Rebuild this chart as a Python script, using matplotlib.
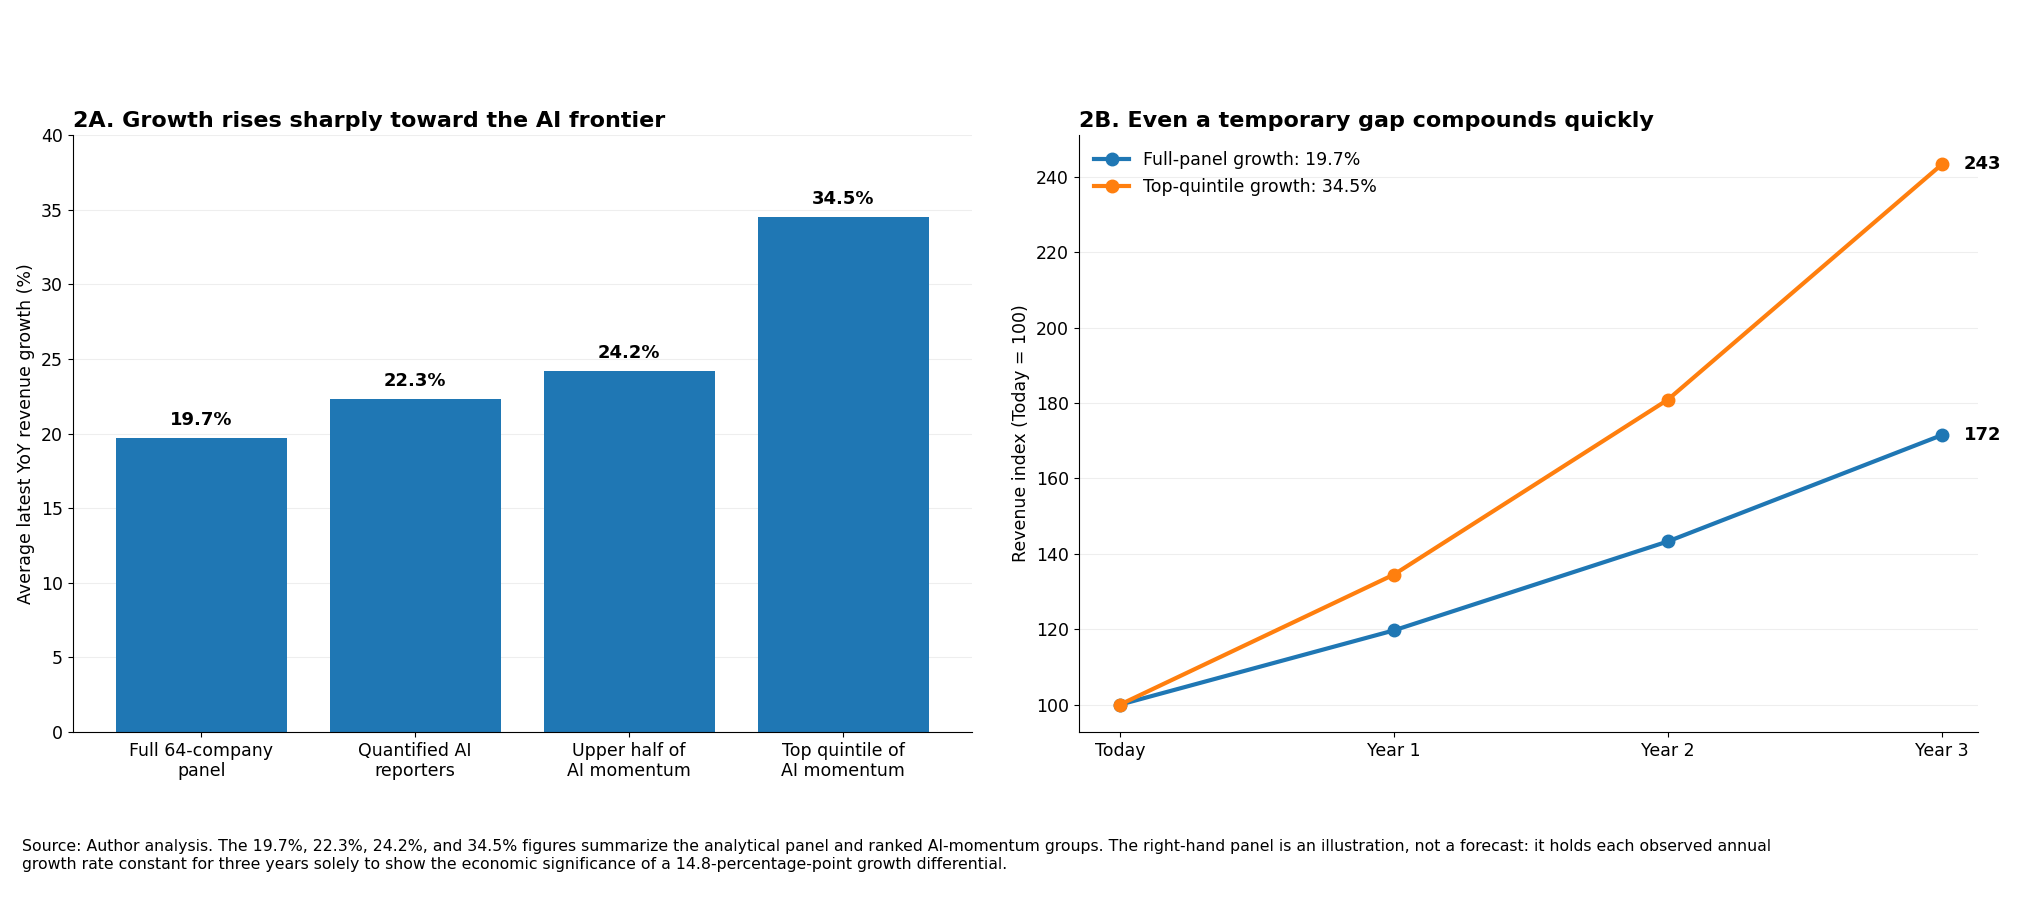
import matplotlib.pyplot as plt

# panel A data
groups = ["Full 64-company\npanel", "Quantified AI\nreporters", "Upper half of\nAI momentum", "Top quintile of\nAI momentum"]
growth = [19.7, 22.3, 24.2, 34.5]

# panel B data
years = ["Today", "Year 1", "Year 2", "Year 3"]
full_panel = [100, 119.7, 143.3, 171.5]
top_quintile = [100, 134.5, 180.9, 243.3]

blue = "#1f77b4"
orange = "#ff7f0e"

fig = plt.figure(figsize=(20.2, 9.08), dpi=100)
ax1 = fig.add_axes([0.036, 0.194, 0.445, 0.657])
ax2 = fig.add_axes([0.534, 0.194, 0.445, 0.657])

ax1.bar(range(len(groups)), growth, width=0.8, color=blue, zorder=2)
for i, v in enumerate(growth):
    ax1.text(i, v + 0.6, f"{v:.1f}%", ha="center", va="bottom", fontsize=13, fontweight="bold")
ax1.set_xticks(range(len(groups)))
ax1.set_xticklabels(groups, fontsize=12.5)
ax1.set_ylim(0, 40)
ax1.set_xlim(-0.6, 3.6)
ax1.set_ylabel("Average latest YoY revenue growth (%)", fontsize=12.5)
ax1.set_title("2A. Growth rises sharply toward the AI frontier", fontsize=16, fontweight="bold", loc="left")
ax1.tick_params(axis="y", labelsize=12.5)
ax1.grid(axis="y", color="#eeeeee", zorder=0)

x = range(len(years))
ax2.plot(x, full_panel, "-o", color=blue, lw=3, ms=9, label="Full-panel growth: 19.7%")
ax2.plot(x, top_quintile, "-o", color=orange, lw=3, ms=9, label="Top-quintile growth: 34.5%")
ax2.text(3.08, full_panel[-1], f"{full_panel[-1]:.0f}", va="center", fontsize=13, fontweight="bold")
ax2.text(3.08, top_quintile[-1], f"{top_quintile[-1]:.0f}", va="center", fontsize=13, fontweight="bold")
ax2.set_xticks(list(x))
ax2.set_xticklabels(years, fontsize=12.5)
ax2.set_xlim(-0.15, 3.13)
ax2.set_ylim(92.8, 251)
ax2.set_yticks(range(100, 241, 20))
ax2.tick_params(axis="y", labelsize=12.5)
ax2.set_ylabel("Revenue index (Today = 100)", fontsize=12.5)
ax2.set_title("2B. Even a temporary gap compounds quickly", fontsize=16, fontweight="bold", loc="left")
ax2.grid(axis="y", color="#eeeeee", zorder=0)
ax2.legend(loc="upper left", frameon=False, fontsize=12.5)

for ax in (ax1, ax2):
    ax.spines["top"].set_visible(False)
    ax.spines["right"].set_visible(False)

fig.text(0.011, 0.04,
         "Source: Author analysis. The 19.7%, 22.3%, 24.2%, and 34.5% figures summarize the analytical panel and ranked AI-momentum groups. "
         "The right-hand panel is an illustration, not a forecast: it holds each observed annual\n"
         "growth rate constant for three years solely to show the economic significance of a 14.8-percentage-point growth differential.",
         fontsize=11.3, ha="left", va="bottom")

fig.savefig("out.png", dpi=100)
